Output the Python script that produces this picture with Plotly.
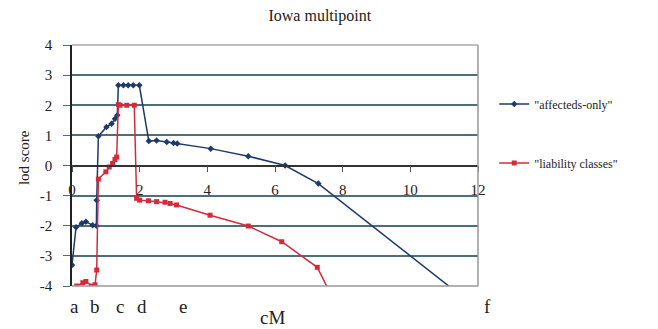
import plotly.graph_objects as go

# ---- data ----
affecteds_cm = [0.0, 0.12, 0.29, 0.41, 0.61, 0.72, 0.73, 0.78, 1.02, 1.17, 1.27, 1.34,
                1.37, 1.52, 1.66, 1.81, 1.99, 2.27, 2.50, 2.80, 3.00, 3.11, 4.10, 5.21,
                6.30, 7.28, 11.70]
affecteds_lod = [-3.3, -2.05, -1.92, -1.87, -1.98, -2.0, -1.15, 0.97, 1.28, 1.39, 1.55, 1.67,
                 2.66, 2.66, 2.66, 2.66, 2.66, 0.81, 0.83, 0.78, 0.75, 0.73, 0.56, 0.31,
                 0.0, -0.6, -4.5]

liability_cm = [0.14, 0.32, 0.41, 0.58, 0.68, 0.73, 0.78, 1.00, 1.10, 1.20, 1.27, 1.32,
                1.37, 1.42, 1.62, 1.84, 1.91, 2.00, 2.26, 2.50, 2.75, 2.90, 3.09, 4.08,
                5.21, 6.20, 7.25, 7.75]
liability_lod = [-4.0, -3.89, -3.85, -4.0, -3.96, -3.47, -0.45, -0.21, -0.05, 0.07, 0.2, 0.28,
                 2.02, 2.0, 2.0, 2.0, -1.09, -1.15, -1.17, -1.2, -1.22, -1.26, -1.31, -1.65,
                 -2.01, -2.53, -3.38, -4.5]

y_ticks = [-4, -3, -2, -1, 0, 1, 2, 3, 4]
y_tick_text = ["-4", "-3", "-2", "-1", "0", "1", "2", "3", "4"]
x_ticks = [0, 2, 4, 6, 8, 10, 12]

locus_labels = ["a", "b", "c", "d", "e", "f"]
locus_cm = [0.06, 0.68, 1.42, 2.06, 3.29, 12.29]

FONT = "Liberation Serif"
GRID = "#4d6f78"
BLUE = "#1d3a6c"
RED = "#d62a3c"
X_MAX = 12

fig = go.Figure()
fig.add_trace(go.Scatter(
    x=affecteds_cm, y=affecteds_lod, mode="lines+markers",
    name='"affecteds-only"', legendgroup="a",
    line=dict(color=BLUE, width=1.5),
    marker=dict(symbol="diamond", size=5, color=BLUE),
))
fig.add_trace(go.Scatter(
    x=liability_cm, y=liability_lod, mode="lines+markers",
    name='"liability classes"', legendgroup="b",
    line=dict(color=RED, width=1.5),
    marker=dict(symbol="square", size=5, color=RED),
))

# locus letters placed below the axis (paper x so that labels beyond 12 cM still show)
annotations = [
    dict(text=t, x=c / X_MAX, xref="paper", y=-0.086, yref="paper", showarrow=False,
         font=dict(family=FONT, size=19, color="#222"), xanchor="center", yanchor="middle")
    for t, c in zip(locus_labels, locus_cm)
]
annotations.append(dict(text="cM", x=0.495, xref="paper", y=-0.13, yref="paper",
                        showarrow=False, font=dict(family=FONT, size=19, color="#222"),
                        xanchor="center", yanchor="middle"))
annotations.append(dict(text="lod score", x=-0.118, xref="paper", y=0.531, yref="paper",
                        showarrow=False, textangle=-90,
                        font=dict(family=FONT, size=15, color="#222"),
                        xanchor="center", yanchor="middle"))

fig.update_layout(
    width=658, height=329,
    margin=dict(l=72, r=180, t=45, b=43),
    paper_bgcolor="white", plot_bgcolor="white",
    title=dict(text="Iowa multipoint", x=0.486, xref="container", y=0.954,
               yref="container", xanchor="center", yanchor="middle",
               font=dict(family=FONT, size=16, color="#222")),
    xaxis=dict(range=[0, X_MAX], tickvals=x_ticks, anchor="free", position=0.5,
               showgrid=False, zeroline=False, showline=True, linecolor="#333",
               linewidth=1.5, ticks="outside", ticklen=6, tickcolor="#555",
               ticklabelstandoff=5,
               tickfont=dict(family=FONT, size=15, color="#222")),
    yaxis=dict(range=[-4, 4], tickvals=y_ticks, ticktext=y_tick_text,
               showgrid=True, gridcolor=GRID, gridwidth=1.5, zeroline=False,
               showline=True, linecolor="#222", linewidth=1.5,
               ticks="outside", ticklen=7, tickcolor=GRID, ticklabelstandoff=8,
               tickfont=dict(family=FONT, size=15, color="#222")),
    legend=dict(x=1.04, y=0.815, xanchor="left", yanchor="top",
                traceorder="grouped", tracegroupgap=40,
                font=dict(family=FONT, size=12, color="#222"),
                bgcolor="rgba(0,0,0,0)"),
    annotations=annotations,
    shapes=[
        dict(type="line", xref="paper", yref="paper", x0=1, x1=1, y0=0, y1=1,
             line=dict(color="#999", width=1.5)),
        dict(type="line", xref="paper", yref="paper", x0=0, x1=1, y0=1, y1=1,
             line=dict(color="#aaa", width=1.5)),
        dict(type="line", xref="paper", yref="paper", x0=0, x1=1, y0=0, y1=0,
             line=dict(color="#999", width=1.5)),
    ],
)

fig.write_html("out.html", config={"displayModeBar": False},
               post_script="document.body.style.margin='0';")
